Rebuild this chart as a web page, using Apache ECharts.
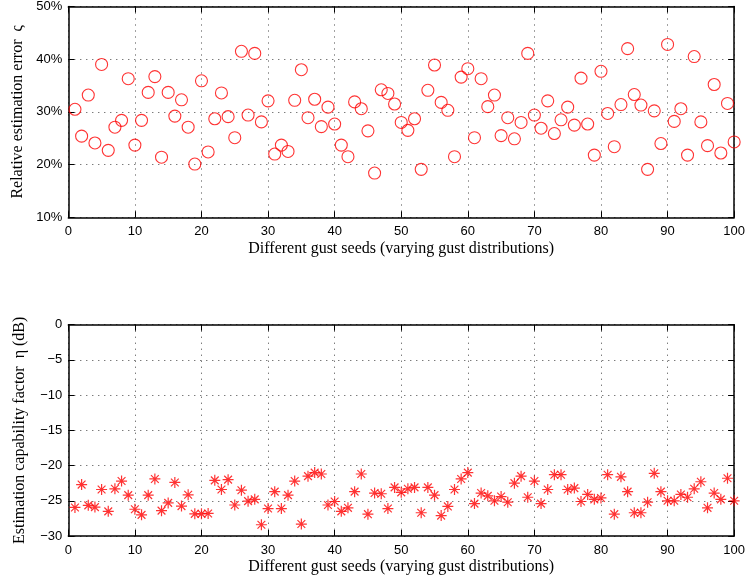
<!DOCTYPE html>
<html>
<head>
<meta charset="utf-8">
<script src="https://cdn.jsdelivr.net/npm/echarts@6/dist/echarts.min.js"></script>
<style>
  html, body { margin: 0; padding: 0; background: #fff; }
  #chart { width: 748px; height: 580px; }
</style>
</head>
<body>
<div id="chart"></div>
<script>
// Gust seed numbers (shared x values of both panels)
const seeds = [
  1, 2, 3, 4, 5, 6, 7, 8, 9, 10,
  11, 12, 13, 14, 15, 16, 17, 18, 19, 20,
  21, 22, 23, 24, 25, 26, 27, 28, 29, 30,
  31, 32, 33, 34, 35, 36, 37, 38, 39, 40,
  41, 42, 43, 44, 45, 46, 47, 48, 49, 50,
  51, 52, 53, 54, 55, 56, 57, 58, 59, 60,
  61, 62, 63, 64, 65, 66, 67, 68, 69, 70,
  71, 72, 73, 74, 75, 76, 77, 78, 79, 80,
  81, 82, 83, 84, 85, 86, 87, 88, 89, 90,
  91, 92, 93, 94, 95, 96, 97, 98, 99, 100
];

// Relative estimation error per seed, in percent
const relativeError = [
  30.5, 25.4, 33.2, 24.1, 39.0, 22.7, 27.1, 28.4, 36.3, 23.7,
  28.4, 33.7, 36.7, 21.4, 33.7, 29.2, 32.3, 27.1, 20.1, 35.9,
  22.4, 28.7, 33.6, 29.1, 25.1, 41.5, 29.4, 41.1, 28.1, 32.1,
  22.0, 23.7, 22.5, 32.2, 38.0, 28.9, 32.4, 27.2, 30.9, 27.7,
  23.7, 21.5, 31.9, 30.6, 26.4, 18.4, 34.2, 33.5, 31.5, 28.0,
  26.5, 28.7, 19.1, 34.1, 38.9, 31.8, 30.3, 21.5, 36.6, 38.2,
  25.1, 36.3, 31.0, 33.2, 25.5, 28.9, 24.9, 28.0, 41.1, 29.4,
  26.9, 32.1, 25.9, 28.5, 30.9, 27.5, 36.4, 27.7, 21.8, 37.7,
  29.7, 23.4, 31.4, 42.0, 33.3, 31.3, 19.1, 30.2, 24.0, 42.8,
  28.2, 30.6, 21.8, 40.5, 28.1, 23.6, 35.2, 22.2, 31.6, 24.3
];

// Estimation capability factor per seed, in dB
const capabilityDb = [
  -25.95, -22.7, -25.65, -25.9, -23.4, -26.5, -23.3, -22.2, -24.2, -26.2,
  -27.0, -24.2, -21.9, -26.4, -25.3, -22.4, -25.75, -24.15, -26.85, -26.85,
  -26.8, -22.1, -23.4, -22.0, -25.6, -23.5, -25.05, -24.8, -28.4, -26.1,
  -23.7, -26.1, -24.2, -22.2, -28.3, -21.5, -21.0, -21.2, -25.6, -25.1,
  -26.5, -26.0, -23.7, -21.2, -26.9, -23.9, -24.0, -26.1, -23.1, -23.8,
  -23.3, -23.1, -26.7, -23.1, -24.2, -27.1, -25.8, -23.4, -21.9, -21.0,
  -25.4, -23.9, -24.3, -25.0, -24.4, -25.2, -22.5, -21.5, -24.5, -22.2,
  -25.4, -23.4, -21.3, -21.3, -23.4, -23.2, -25.1, -24.1, -24.8, -24.6,
  -21.3, -26.9, -21.6, -23.7, -26.7, -26.7, -25.2, -21.1, -23.7, -25.0,
  -25.0, -24.1, -24.5, -23.3, -22.3, -26.0, -23.9, -24.8, -21.8, -25.0
];

// Axis texts
const xTitle = 'Different gust seeds (varying gust distributions)';
const yTitleTop = 'Relative estimation error  \u03c2';
const yTitleBottom = 'Estimation capability factor  \u03b7 (dB)';

const SANS = '"Liberation Sans", Arial, Helvetica, sans-serif';
const SERIF = '"Liberation Serif", "Times New Roman", serif';
const RED = '#ff0000';

const gridLine = { show: true, lineStyle: { color: '#444', width: 1, type: [1, 5] } };
const frameLine = { show: true, onZero: false, lineStyle: { color: '#000', width: 1.5 } };
const innerTick = { show: true, inside: true, length: 6, lineStyle: { color: '#000', width: 1 } };

// Typographic minus for negative tick values
const withMinus = v => String(v).replace('-', '\u2212');

function xAxisFor(gridIndex, primary) {
  return {
    type: 'value', gridIndex: gridIndex,
    position: primary ? 'bottom' : 'top',
    min: 0, max: 100, interval: 10,
    axisLine: frameLine, axisTick: innerTick,
    axisLabel: primary
      ? { show: true, margin: 8, color: '#000', fontFamily: SANS, fontSize: 13 }
      : { show: false },
    splitLine: primary ? gridLine : { show: false },
    name: primary ? xTitle : '',
    nameLocation: 'middle', nameGap: 23,
    nameTextStyle: { color: '#000', fontFamily: SERIF, fontSize: 16 }
  };
}

function yAxisFor(gridIndex, primary, min, max, interval, fmt, title) {
  return {
    type: 'value', gridIndex: gridIndex,
    position: primary ? 'left' : 'right',
    min: min, max: max, interval: interval,
    axisLine: frameLine, axisTick: innerTick,
    axisLabel: primary
      ? { show: true, margin: 6, color: '#000', fontFamily: SANS, fontSize: 13, formatter: fmt }
      : { show: false },
    splitLine: primary ? gridLine : { show: false },
    name: primary ? title : '',
    nameLocation: 'middle', nameGap: 41, nameRotate: 90,
    nameTextStyle: { color: '#000', fontFamily: SERIF, fontSize: 16 }
  };
}

// MATLAB-style asterisk marker, drawn as strokes
const asterisk = 'path://M0,-10L0,10M-10,0L10,0M-7.07,-7.07L7.07,7.07M-7.07,7.07L7.07,-7.07';

const chart = echarts.init(document.getElementById('chart'), null, { renderer: 'canvas' });
chart.setOption({
  animation: false,
  backgroundColor: '#fff',
  grid: [
    { left: 68.3, right: 12.7, top: 6, height: 211.3 },
    { left: 68.3, right: 12.7, top: 324.7, height: 211.3 }
  ],
  xAxis: [
    xAxisFor(0, true), xAxisFor(0, false),
    xAxisFor(1, true), xAxisFor(1, false)
  ],
  yAxis: [
    yAxisFor(0, true, 10, 50, 10, '{value}%', yTitleTop),
    yAxisFor(0, false, 10, 50, 10),
    yAxisFor(1, true, -30, 0, 5, withMinus, yTitleBottom),
    yAxisFor(1, false, -30, 0, 5)
  ],
  series: [
    {
      type: 'scatter', xAxisIndex: 0, yAxisIndex: 0,
      symbol: 'circle', symbolSize: 12,
      itemStyle: { color: 'rgba(0,0,0,0)', borderColor: RED, borderWidth: 1.1 },
      silent: true,
      data: seeds.map((s, i) => [s, relativeError[i]])
    },
    {
      type: 'scatter', xAxisIndex: 2, yAxisIndex: 2,
      symbol: asterisk, symbolSize: 11, symbolKeepAspect: true,
      itemStyle: { color: 'rgba(0,0,0,0)', borderColor: RED, borderWidth: 1.2 },
      silent: true,
      data: seeds.map((s, i) => [s, capabilityDb[i]])
    }
  ]
});
</script>
</body>
</html>
